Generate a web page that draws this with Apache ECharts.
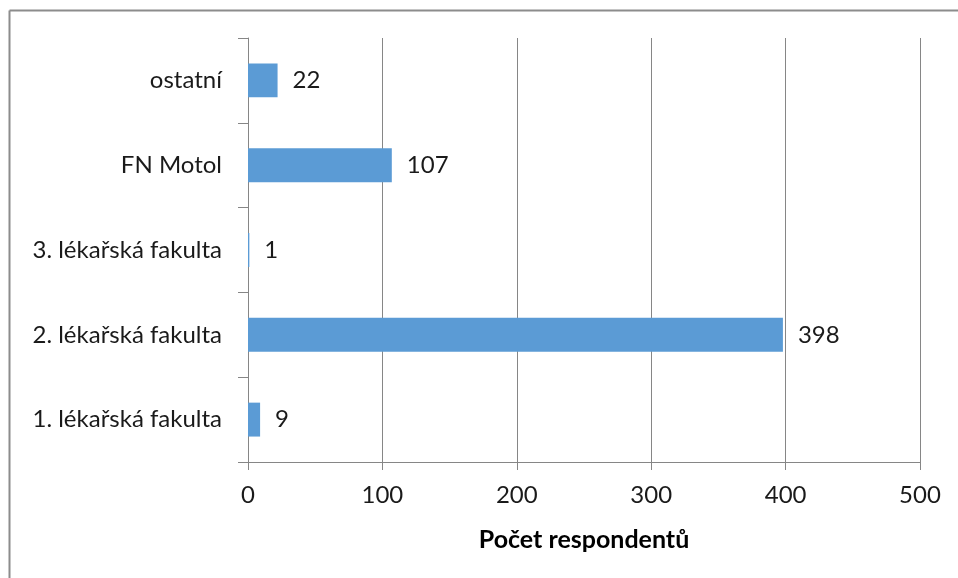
<!DOCTYPE html>
<html>
<head>
<meta charset="utf-8">
<script src="https://cdn.jsdelivr.net/npm/echarts@6/dist/echarts.min.js"></script>
<style>
html,body{margin:0;padding:0;background:#fff;}
#chart{width:958px;height:578px;}
</style>
</head>
<body>
<div id="chart"></div>
<script>
const categories = ['1. lékařská fakulta', '2. lékařská fakulta', '3. lékařská fakulta', 'FN Motol', 'ostatní'];
const values = [9, 398, 1, 107, 22];
const xTicks = [0, 100, 200, 300, 400, 500];
const axisTitle = 'Počet respondentů';

const FONT = 'Lato';
const chart = echarts.init(document.getElementById('chart'), null, {renderer: 'canvas'});
chart.setOption({
  animation: false,
  backgroundColor: '#ffffff',
  textStyle: {fontFamily: FONT},
  graphic: [
    {type: 'line', shape: {x1: 9.5, y1: 10.5, x2: 958, y2: 10.5}, style: {stroke: '#8c8c8c', lineWidth: 2}},
    {type: 'line', shape: {x1: 9.5, y1: 10.5, x2: 9.5, y2: 578}, style: {stroke: '#8c8c8c', lineWidth: 2}}
  ],
  grid: {left: 248, right: 38, top: 38, bottom: 116, containLabel: false},
  xAxis: {
    type: 'value',
    min: xTicks[0],
    max: xTicks[xTicks.length - 1],
    interval: xTicks[1] - xTicks[0],
    axisLine: {show: true, lineStyle: {color: '#868686', width: 1}},
    axisTick: {show: true, inside: false, length: 8, lineStyle: {color: '#868686'}},
    splitLine: {show: true, lineStyle: {color: '#868686', width: 1}},
    axisLabel: {color: '#1a1a1a', fontSize: 24, fontFamily: FONT, margin: 21},
    name: axisTitle,
    nameLocation: 'middle',
    nameGap: 65,
    nameTextStyle: {color: '#000', fontSize: 25, fontWeight: 'bold', fontFamily: FONT}
  },
  yAxis: {
    type: 'category',
    data: categories,
    axisLine: {show: true, lineStyle: {color: '#868686', width: 1}},
    axisTick: {show: true, inside: false, length: 10, lineStyle: {color: '#868686'}},
    splitLine: {show: false},
    axisLabel: {color: '#1a1a1a', fontSize: 24, fontFamily: FONT, margin: 26}
  },
  series: [{
    type: 'bar',
    data: values,
    barWidth: '40%',
    itemStyle: {color: '#5b9bd5'},
    label: {show: true, position: 'right', distance: 15, color: '#1a1a1a', fontSize: 24, fontFamily: FONT}
  }]
});
</script>
</body>
</html>
